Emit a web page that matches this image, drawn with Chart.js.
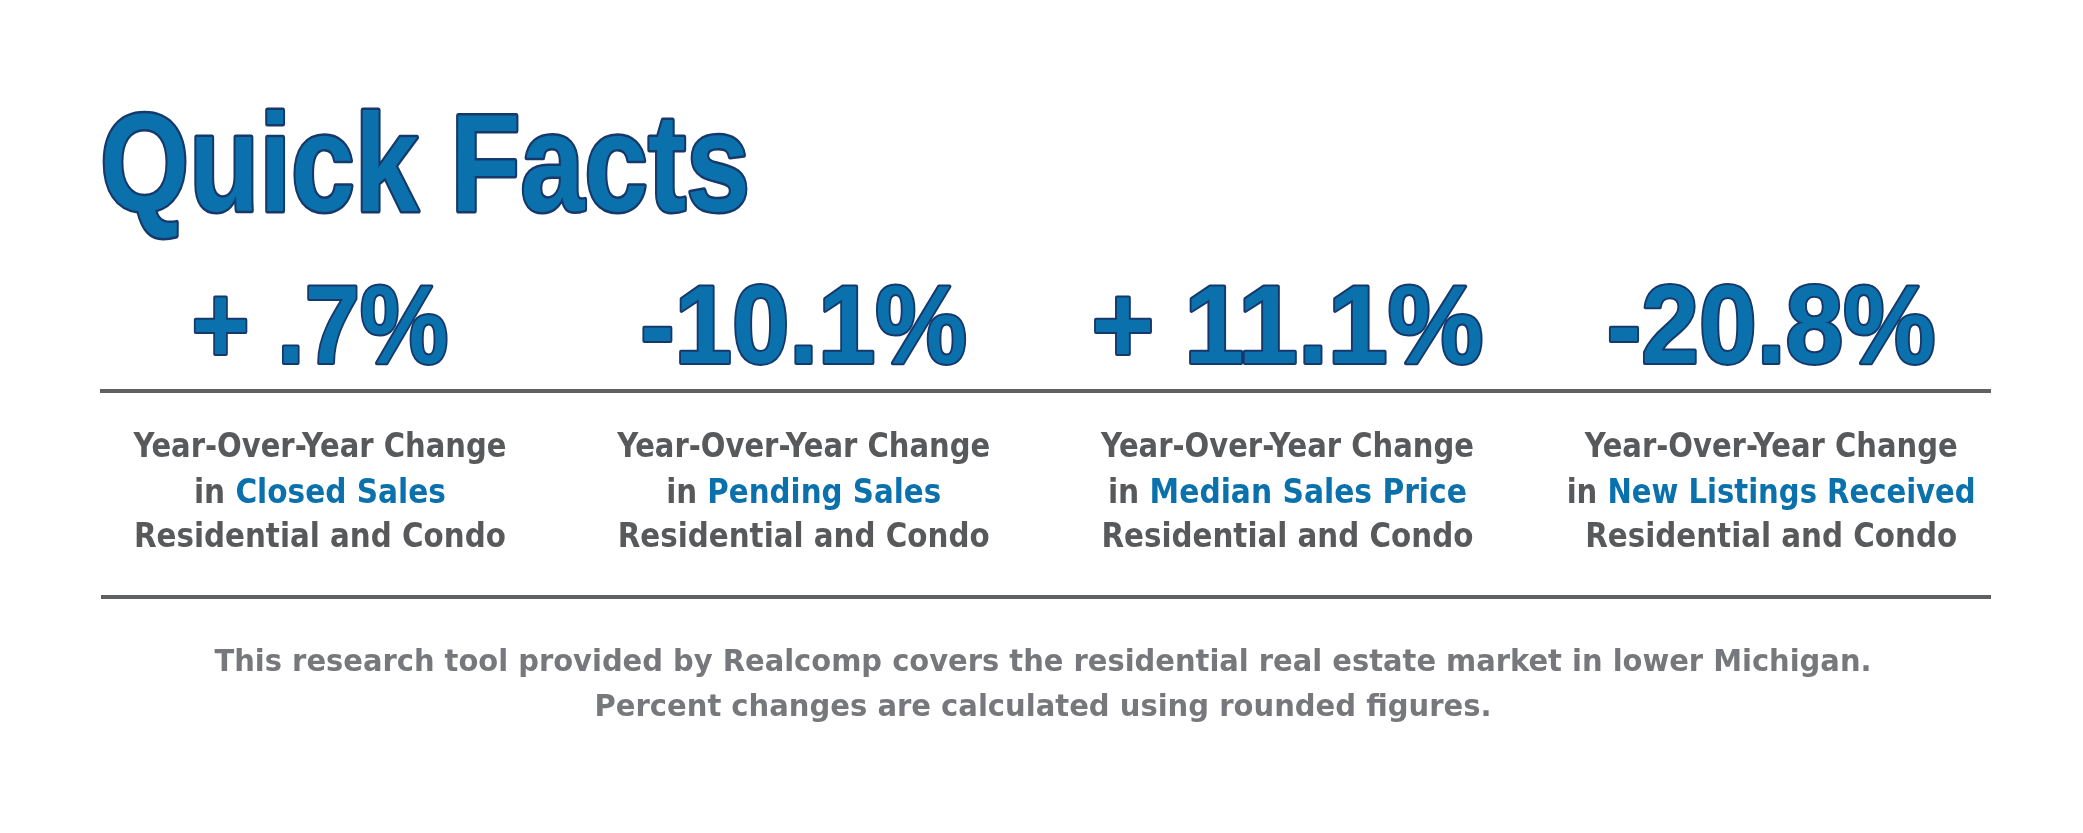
<!DOCTYPE html>
<html>
<head>
<meta charset="utf-8">
<script src="https://cdn.jsdelivr.net/npm/chart.js@4"></script>
<style>
  html, body { margin: 0; padding: 0; background: #fff; }
  #wrap { width: 2083px; height: 833px; }
</style>
</head>
<body>
<div id="wrap"><canvas id="facts" width="2083" height="833"></canvas></div>
<script>
(function () {
    'use strict';

    // values
    var metrics = ['Closed Sales', 'Pending Sales', 'Median Sales Price', 'New Listings Received'];
    var changes = [0.7, -10.1, 11.1, -20.8];
    var changeLabels = ['+ .7%', '-10.1%', '+ 11.1%', '-20.8%'];
    var changeWidths = [257, 327, 392, 329];

    var BLUE = '#0a71ad', OUTLINE = '#16386b', GRAY = '#58595b', FOOT = '#77787b';
    var COND = '"Liberation Sans Narrow", "DejaVu Sans Condensed", Arial, sans-serif';

    // draw text at size, squeezed/stretched horizontally to a target width
    function fit(ctx, parts, x, y, size, width, align, family, stroke) {
        ctx.save();
        ctx.font = 'bold ' + size + 'px ' + family;
        var total = parts.reduce(function (a, p) { return a + ctx.measureText(p[0]).width; }, 0);
        var k = width ? width / total : 1;
        var left = align === 'center' ? x - total * k / 2 : x;
        ctx.translate(left, y);
        ctx.scale(k, 1);
        ctx.textBaseline = 'alphabetic';
        ctx.textAlign = 'left';
        var cx = 0;
        parts.forEach(function (p) {
            if (stroke) {
                ctx.lineJoin = 'round';
                ctx.lineWidth = stroke;
                ctx.strokeStyle = OUTLINE;
                ctx.strokeText(p[0], cx, 0);
            }
            ctx.fillStyle = p[1];
            ctx.fillText(p[0], cx, 0);
            cx += ctx.measureText(p[0]).width;
        });
        ctx.restore();
    }

    var factsPlugin = {
        id: 'quickFacts',
        afterDatasetsDraw: function (chart) {
            var ctx = chart.ctx, x = chart.scales.x;
            fit(ctx, [['Quick Facts', BLUE]], 100, 211, 139, 650, 'left', '"Liberation Sans", Arial, sans-serif', 5);

            ctx.fillStyle = '#5f6062';
            ctx.fillRect(100, 389, 1891, 4);
            ctx.fillRect(101, 595, 1890, 4);

            chart.data.labels.forEach(function (name, i) {
                var cx = x.getPixelForValue(i);
                fit(ctx, [[changeLabels[i], BLUE]], cx, 363, 111, changeWidths[i], 'center', '"Liberation Sans", Arial, sans-serif', 4);
                fit(ctx, [['Year-Over-Year Change', GRAY]], cx, 457, 34, 373, 'center', COND);
                var w = i === 3 ? 409 : (i === 2 ? 359 : (i === 1 ? 275 : 252));
                fit(ctx, [['in ', GRAY], [name, BLUE]], cx, 503, 34, w, 'center', COND);
                fit(ctx, [['Residential and Condo', GRAY]], cx, 547, 34, 372, 'center', COND);
            });

            fit(ctx, [['This research tool provided by Realcomp covers the residential real estate market in lower Michigan.', FOOT]],
                1043, 671, 31, 1657, 'center', COND);
            fit(ctx, [['Percent changes are calculated using rounded figures.', FOOT]],
                1043, 716, 31, 897, 'center', COND);
        }
    };

    new Chart(document.getElementById('facts'), {
        type: 'bar',
        data: {
            labels: metrics,
            datasets: [{ label: 'YoY change', data: changes, backgroundColor: 'rgba(0,0,0,0)' }]
        },
        options: {
            responsive: false,
            animation: false,
            layout: { padding: { left: 78, right: 70, top: 0, bottom: 0 } },
            plugins: { legend: { display: false }, tooltip: { enabled: false } },
            scales: {
                x: { display: false, offset: true },
                y: { display: false }
            }
        },
        plugins: [factsPlugin]
    });
})();
</script>
</body>
</html>
